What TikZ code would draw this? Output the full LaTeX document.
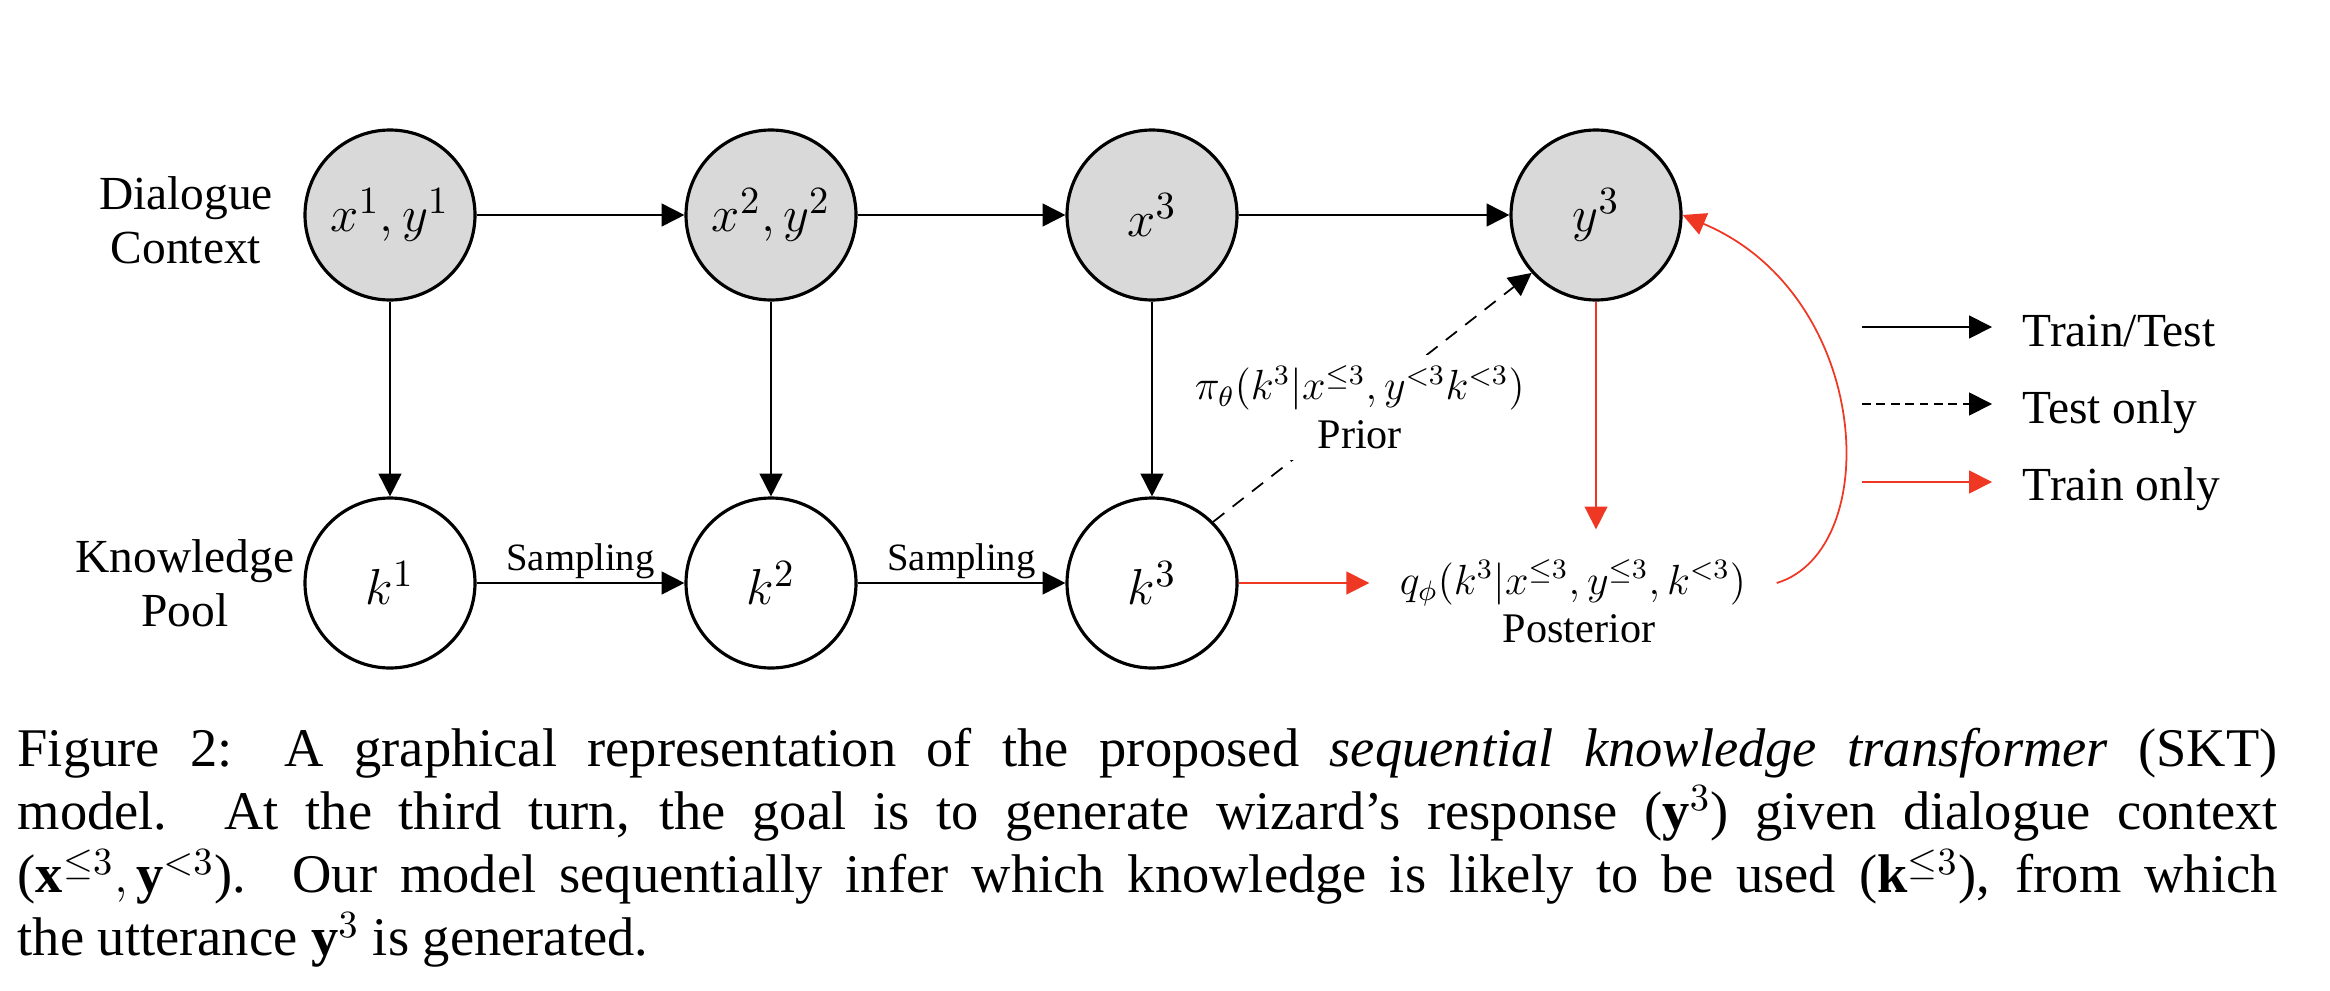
\documentclass[tikz,border=0pt]{standalone}
\usepackage{amsmath, amssymb}
\usepackage{fontspec}
\setmainfont{Liberation Serif}
\usepackage{tikz}
\usetikzlibrary{positioning, arrows.meta, calc}
\definecolor{ctxgray}{RGB}{217,217,217}
\definecolor{skred}{RGB}{238,56,36}
\tikzset{
  ctxnode/.style   = {circle, draw, line width=0.9pt, fill=ctxgray, minimum size=1.7cm, inner sep=0pt, font=\fontsize{15}{18}\selectfont},
  knnode/.style    = {circle, draw, line width=0.9pt, fill=white,   minimum size=1.7cm, inner sep=0pt, font=\fontsize{15}{18}\selectfont},
  rowlabel/.style  = {align=center, inner sep=0pt, font=\fontsize{13.5}{15.4}\selectfont},
  samplbl/.style   = {inner sep=1pt, font=\fontsize{11}{13}\selectfont},
  distlbl/.style   = {align=center, inner sep=3pt, fill=white, font=\fontsize{12}{13.9}\selectfont},
  legtext/.style   = {inner sep=0pt, font=\fontsize{13.5}{15.4}\selectfont},
  captext/.style   = {text width=22.6cm, align=justify, inner sep=0pt, font=\fontsize{15.5}{18}\selectfont},
  fwd/.style       = {-{Triangle[length=6.5pt, width=6.5pt]}, line width=0.5pt},
  testonly/.style  = {fwd, dash pattern=on 4pt off 3pt},
  legdash/.style   = {fwd, dash pattern=on 2.5pt off 1.6pt},
  trainonly/.style = {fwd, skred}
}

\begin{document}
\begin{tikzpicture}[x=1cm, y=1cm]
    \useasboundingbox (0,0) rectangle (23.3,-9.9);

    % --- Row labels ------------------------------------------------------------
    \node[rowlabel] (ctxlbl) at (1.86,-2.20) {Dialogue\\Context};
    \node[rowlabel] (kplbl)  at (1.85,-5.83) {Knowledge\\Pool};

    % --- Dialogue context nodes -------------------------------------------------
    \node[ctxnode] (c1) at (3.90,-2.15)  {$x^1, y^1$};
    \node[ctxnode] (c2) at (7.71,-2.15)  {$x^2, y^2$};
    \node[ctxnode] (c3) at (11.52,-2.15) {$x^3$};
    \node[ctxnode] (y3) at (15.96,-2.15) {$y^3$};

    % --- Knowledge nodes --------------------------------------------------------
    \node[knnode] (k1) at (3.90,-5.83)  {$k^1$};
    \node[knnode] (k2) at (7.71,-5.83)  {$k^2$};
    \node[knnode] (k3) at (11.52,-5.83) {$k^3$};

    % --- Posterior --------------------------------------------------------------
    \node[inner sep=0.3cm, font=\fontsize{12}{13.9}\selectfont] (postf) at (15.73,-5.83)
      {$q_\phi(k^3|x^{\leq 3}, y^{\leq 3}, k^{<3})$};
    \node[rowlabel, font=\fontsize{12}{13.9}\selectfont, below=-0.23cm of postf, xshift=0.06cm] (postl)
      {Posterior};

    % --- Train/Test arrows ------------------------------------------------------
    \draw[fwd] (c1) -- (c2);
    \draw[fwd] (c2) -- (c3);
    \draw[fwd] (c3) -- (y3);
    \draw[fwd] (c1) -- (k1);
    \draw[fwd] (c2) -- (k2);
    \draw[fwd] (c3) -- (k3);
    \draw[fwd] (k1) -- node[samplbl, above] {Sampling} (k2);
    \draw[fwd] (k2) -- node[samplbl, above] {Sampling} (k3);

    % --- Test only: prior -------------------------------------------------------
    \draw[testonly] (k3.45) -- node[distlbl, pos=0.46] (prior)
      {$\pi_\theta(k^3|x^{\leq 3}, y^{<3}k^{<3})$\\Prior} (y3.222);

    % --- Train only: posterior --------------------------------------------------
    \draw[trainonly] (k3) -- (postf.west);
    \draw[trainonly] (y3.south) -- (y3.south |- postf.north);
    \draw[trainonly] (postf.east) .. controls +(1.08,0.33) and +(1.9,-0.8) .. (y3.east);

    % --- Legend -----------------------------------------------------------------
    \coordinate (lgA1) at (18.62,-3.27);  \coordinate (lgA2) at (19.92,-3.27);
    \coordinate (lgB1) at (18.62,-4.04);  \coordinate (lgB2) at (19.92,-4.04);
    \coordinate (lgC1) at (18.62,-4.82);  \coordinate (lgC2) at (19.92,-4.82);
    \draw[fwd]       (lgA1) -- (lgA2);
    \draw[legdash]   (lgB1) -- (lgB2);
    \draw[trainonly] (lgC1) -- (lgC2);
    \node[legtext, anchor=base west] (lgA) at (20.22,-3.46) {Train/Test};
    \node[legtext, anchor=base west] (lgB) at (20.22,-4.23) {Test only};
    \node[legtext, anchor=base west] (lgC) at (20.22,-5.00) {Train only};

    % --- Caption ----------------------------------------------------------------
    \node[captext, anchor=north west] (caption) at (0.17,-7.27)
      {\lineskiplimit=-\maxdimen\hyphenpenalty=10000
       Figure 2: A graphical representation of the proposed \textit{sequential knowledge transformer} (SKT)\linebreak
       model. At the third turn, the goal is to generate wizard's response ($\mathbf{y}^3$) given dialogue context\linebreak
       ($\mathbf{x}^{\leq 3}, \mathbf{y}^{<3}$). Our model sequentially infer which knowledge is likely to be used ($\mathbf{k}^{\leq 3}$), from which\linebreak
       the utterance $\mathbf{y}^3$ is generated.};

\end{tikzpicture}
\end{document}
